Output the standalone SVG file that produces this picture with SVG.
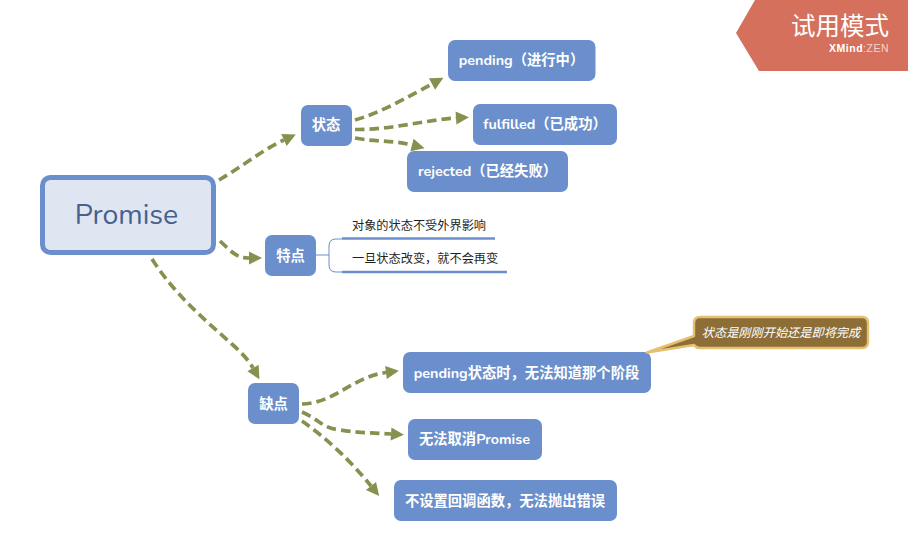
<svg xmlns="http://www.w3.org/2000/svg" width="908" height="549" viewBox="0 0 908 549">
<defs>
<marker id="arrow" markerUnits="userSpaceOnUse" markerWidth="16" markerHeight="16" refX="1" refY="8" orient="auto" viewBox="0 0 16 16"><path d="M1 1.500 L14 8 L1 14.500 Z" fill="#87914f"/></marker>
</defs>
<style>
text{font-family:"Nunito","Noto Sans","Noto Sans CJK SC",sans-serif}
.n{fill:#6a8fcc}
.t{fill:#fff;font-size:14.300px;font-weight:700;text-anchor:middle}
.c{fill:none;stroke:#87914f;stroke-width:3.700;stroke-dasharray:9.500 5;marker-end:url(#arrow)}
.s{fill:#1f1f1f;font-size:12.200px}
</style>
<rect width="908" height="549" fill="#fff"/>
<g id="connectors">
<path class="c" d="M219 180 C240 168 262 150 284 140"/>
<path class="c" d="M355 120 C380 113 410 96 432 84"/>
<path class="c" d="M355 129.500 C390 130 425 120 456 118"/>
<path class="c" d="M355 138 C375 142 393 140 412 145"/>
<path class="c" d="M220 241 C232 252 236 258 249 258"/>
<path class="c" d="M152 259 C175 295 205 320 233 345 C243 354 249 361 253 368"/>
<path class="c" d="M302 404 C335 403 352 377 386 372.500"/>
<path class="c" d="M302 412 C320 420 322 428 340 430 C360 433 375 433 391 434"/>
<path class="c" d="M302 421 C325 437 350 460 371 486"/>
<g fill="none" stroke="#6a8fcc">
<path d="M316 255 H329" stroke-width="1"/>
<path d="M342 239 H336 Q329 239 329 246 V265 Q329 272 336 272 H342" stroke-width="1"/>
<path d="M342 238.500 H495" stroke-width="2.600"/>
<path d="M342 272 H507" stroke-width="2.600"/>
</g>
</g>
<g id="node-root">
<rect x="42.500" y="177.500" width="171" height="75" rx="8" fill="#e0e6f1" stroke="#6a8fcc" stroke-width="5"/>
<text x="126.500" y="224" font-size="28.500" fill="#45628f" text-anchor="middle">Promise</text>
</g>
<g id="node-status"><rect class="n" x="301" y="105" width="51" height="41" rx="7"/><text class="t" x="326" y="130">状态</text></g>
<g id="node-pending"><rect class="n" x="448" y="40" width="147.500" height="41" rx="7"/><text class="t" x="521.500" y="65">pending（进行中）</text></g>
<g id="node-fulfilled"><rect class="n" x="473" y="104" width="144" height="41" rx="7"/><text class="t" x="545" y="129">fulfilled（已成功）</text></g>
<g id="node-rejected"><rect class="n" x="407" y="151" width="161" height="41" rx="7"/><text class="t" x="487.500" y="176">rejected（已经失败）</text></g>
<g id="node-feature"><rect class="n" x="265" y="235" width="51" height="41" rx="7"/><text class="t" x="290.500" y="260.500">特点</text></g>
<g id="node-feature-1"><text class="s" x="352" y="229.500">对象的状态不受外界影响</text></g>
<g id="node-feature-2"><text class="s" x="352" y="263">一旦状态改变，就不会再变</text></g>
<g id="node-flaw"><rect class="n" x="248" y="383" width="51" height="41" rx="7"/><text class="t" x="273.500" y="408.500">缺点</text></g>
<g id="node-flaw-1"><rect class="n" x="403" y="352" width="248" height="41" rx="7"/><text class="t" x="526.500" y="378">pending状态时，无法知道那个阶段</text></g>
<g id="node-flaw-2"><rect class="n" x="408" y="419" width="134" height="41" rx="7"/><text class="t" x="474.500" y="444">无法取消Promise</text></g>
<g id="node-flaw-3"><rect class="n" x="394" y="480" width="223" height="41" rx="7"/><text class="t" x="505" y="505.500">不设置回调函数，无法抛出错误</text></g>
<g id="callout">
<path d="M647 352.500 L694 336 V323 Q694 317 700 317 H862 Q868 317 868 323 V342 Q868 348 862 348 H700 Q696 348 694 345 Z" fill="#8d6e37" stroke="#e5c071" stroke-width="2.400" stroke-linejoin="round"/>
<text x="781" y="337" font-size="12.200" font-style="italic" fill="#fff" text-anchor="middle">状态是刚刚开始还是即将完成</text>
</g>
<g id="watermark">
<path d="M755 0 H908 V71 H759 L736 33 Z" fill="#d5705c"/>
<text x="840" y="35" font-size="24.500" fill="#fff" text-anchor="middle" style="font-family:'Noto Sans CJK SC',sans-serif">试用模式</text>
<text x="889" y="52" font-size="10.500" fill="#fff" text-anchor="end" font-weight="700" letter-spacing=".5" style="font-family:'Liberation Sans',sans-serif">XMind<tspan font-weight="400" opacity=".7">:ZEN</tspan></text>
</g>
</svg>
